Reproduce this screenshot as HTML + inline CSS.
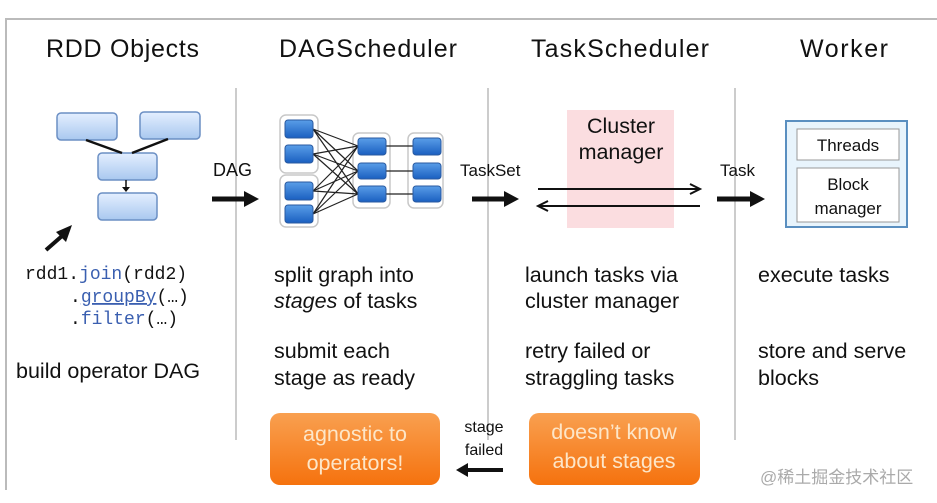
<!DOCTYPE html>
<html><head><meta charset="utf-8"><style>
html,body{margin:0;padding:0;background:#fff;width:937px;height:503px;overflow:hidden}
svg{display:block}
text{font-family:"Liberation Sans","Noto Sans CJK SC",sans-serif;fill:#111}
.h{font-size:25px}
.b{font-size:21.5px}
.m{font-family:"Liberation Mono",monospace;font-size:18px}
</style></head><body>
<svg width="937" height="503" viewBox="0 0 937 503">
<defs>
<linearGradient id="lb" x1="0" y1="0" x2="0" y2="1"><stop offset="0" stop-color="#e4efff"/><stop offset="1" stop-color="#a9c8ef"/></linearGradient>
<linearGradient id="db" x1="0" y1="0" x2="0" y2="1"><stop offset="0" stop-color="#5a9ee8"/><stop offset="1" stop-color="#1a5fc0"/></linearGradient>
<linearGradient id="or" x1="0" y1="0" x2="0" y2="1"><stop offset="0" stop-color="#f9a050"/><stop offset="1" stop-color="#f5720e"/></linearGradient>
</defs>
<path d="M6,490 V19 H937" fill="none" stroke="#bbb" stroke-width="2"/>
<line x1="236" y1="88" x2="236" y2="440" stroke="#ccc" stroke-width="2"/>
<line x1="488" y1="88" x2="488" y2="440" stroke="#ccc" stroke-width="2"/>
<line x1="735" y1="88" x2="735" y2="440" stroke="#ccc" stroke-width="2"/>
<text class="h" x="46" y="57" textLength="153">RDD Objects</text>
<text class="h" x="279" y="57" textLength="178">DAGScheduler</text>
<text class="h" x="531" y="57" textLength="178">TaskScheduler</text>
<text class="h" x="800" y="57" textLength="88">Worker</text>
<g stroke="#6b8fc4" stroke-width="1.5" fill="url(#lb)">
<rect x="57" y="113" width="60" height="27" rx="4"/><rect x="140" y="112" width="60" height="27" rx="4"/>
<rect x="98" y="153" width="59" height="27" rx="4"/><rect x="98" y="193" width="59" height="27" rx="4"/>
</g>
<g stroke="#111" stroke-width="2.5"><line x1="86" y1="140" x2="122" y2="153"/><line x1="168" y1="139" x2="132" y2="153"/><line x1="126" y1="180" x2="126" y2="188" stroke-width="1.5"/></g>
<path d="M122,187 L130,187 L126,192 z" fill="#111"/>
<line x1="46" y1="250" x2="62" y2="236" stroke="#111" stroke-width="4"/>
<path d="M56,232 L72,225 L66,242 z" fill="#111"/>
<text class="m" x="25" y="279">rdd1.<tspan fill="#3a5fb0">join</tspan>(rdd2)</text>
<text class="m" x="70" y="302">.<tspan fill="#3a5fb0" text-decoration="underline">groupBy</tspan>(…)</text>
<text class="m" x="70" y="324">.<tspan fill="#3a5fb0">filter</tspan>(…)</text>
<text class="b" x="16" y="378">build operator DAG</text>
<text x="213" y="176" style="font-size:18px">DAG</text>
<line x1="212" y1="199" x2="246" y2="199" stroke="#111" stroke-width="5"/><path d="M244,191 L259,199 L244,207 z" fill="#111"/>
<g fill="#fff" stroke="#c8c8c8" stroke-width="1.5">
<rect x="280" y="115" width="38" height="58" rx="6"/><rect x="280" y="175" width="38" height="52" rx="6"/>
<rect x="353" y="133" width="37" height="75" rx="6"/><rect x="408" y="133" width="35" height="75" rx="6"/>
</g>
<g stroke="#222" stroke-width="1.2">
<path d="M313,129 L358,146 M313,129 L358,171 M313,129 L358,194 M313,154 L358,146 M313,154 L358,171 M313,154 L358,194 M313,191 L358,146 M313,191 L358,171 M313,191 L358,194 M313,214 L358,146 M313,214 L358,171 M313,214 L358,194"/>
<path d="M386,146 L413,146 M386,171 L413,171 M386,194 L413,194"/>
</g>
<g fill="url(#db)" stroke="#2a5aa0" stroke-width="1">
<rect x="285" y="120" width="28" height="18" rx="3"/><rect x="285" y="145" width="28" height="18" rx="3"/>
<rect x="285" y="182" width="28" height="18" rx="3"/><rect x="285" y="205" width="28" height="18" rx="3"/>
<rect x="358" y="138" width="28" height="17" rx="3"/><rect x="358" y="163" width="28" height="16" rx="3"/><rect x="358" y="186" width="28" height="16" rx="3"/>
<rect x="413" y="138" width="28" height="17" rx="3"/><rect x="413" y="163" width="28" height="16" rx="3"/><rect x="413" y="186" width="28" height="16" rx="3"/>
</g>
<text x="460" y="176" style="font-size:17px">TaskSet</text>
<line x1="472" y1="199" x2="506" y2="199" stroke="#111" stroke-width="5"/><path d="M504,191 L519,199 L504,207 z" fill="#111"/>
<rect x="567" y="110" width="107" height="118" fill="#fbdde0"/>
<text class="b" x="621" y="133" text-anchor="middle">Cluster</text>
<text class="b" x="621" y="159" text-anchor="middle">manager</text>
<line x1="538" y1="189" x2="698" y2="189" stroke="#111" stroke-width="2"/><path d="M690,184 L700,189 L690,194" fill="none" stroke="#111" stroke-width="2"/>
<line x1="540" y1="206" x2="700" y2="206" stroke="#111" stroke-width="2"/><path d="M548,201 L538,206 L548,211" fill="none" stroke="#111" stroke-width="2"/>
<text x="720" y="176" style="font-size:17px">Task</text>
<line x1="717" y1="199" x2="752" y2="199" stroke="#111" stroke-width="5"/><path d="M750,191 L765,199 L750,207 z" fill="#111"/>
<rect x="786" y="121" width="121" height="106" fill="#e8f4fc" stroke="#5a8fc0" stroke-width="2"/>
<rect x="797" y="129" width="102" height="31" fill="#fff" stroke="#999" stroke-width="1"/>
<rect x="797" y="168" width="102" height="54" fill="#fff" stroke="#999" stroke-width="1"/>
<text x="848" y="151" text-anchor="middle" style="font-size:17px">Threads</text>
<text x="848" y="190" text-anchor="middle" style="font-size:17px">Block</text>
<text x="848" y="214" text-anchor="middle" style="font-size:17px">manager</text>
<text class="b" x="274" y="282">split graph into</text>
<text class="b" x="274" y="308"><tspan font-style="italic">stages</tspan> of tasks</text>
<text class="b" x="274" y="358">submit each</text>
<text class="b" x="274" y="385">stage as ready</text>
<text class="b" x="525" y="282">launch tasks via</text>
<text class="b" x="525" y="308">cluster manager</text>
<text class="b" x="525" y="358">retry failed or</text>
<text class="b" x="525" y="385">straggling tasks</text>
<text class="b" x="758" y="282">execute tasks</text>
<text class="b" x="758" y="358">store and serve</text>
<text class="b" x="758" y="385">blocks</text>
<rect x="270" y="413" width="170" height="72" rx="10" fill="url(#or)"/>
<rect x="529" y="413" width="171" height="72" rx="10" fill="url(#or)"/>
<text class="b" x="355" y="441" text-anchor="middle" style="fill:#fde6c8">agnostic to</text>
<text class="b" x="355" y="470" text-anchor="middle" style="fill:#fde6c8">operators!</text>
<text class="b" x="614" y="439" text-anchor="middle" style="fill:#fde6c8">doesn’t know</text>
<text class="b" x="614" y="468" text-anchor="middle" style="fill:#fde6c8">about stages</text>
<text x="484" y="432" text-anchor="middle" style="font-size:16px">stage</text>
<text x="484" y="455" text-anchor="middle" style="font-size:16px">failed</text>
<line x1="503" y1="470" x2="466" y2="470" stroke="#111" stroke-width="4"/><path d="M468,463 L456,470 L468,477 z" fill="#111"/>
<text x="760" y="483" style="font-size:17px;fill:#aaa">@稀土掘金技术社区</text>
</svg>
</body></html>
